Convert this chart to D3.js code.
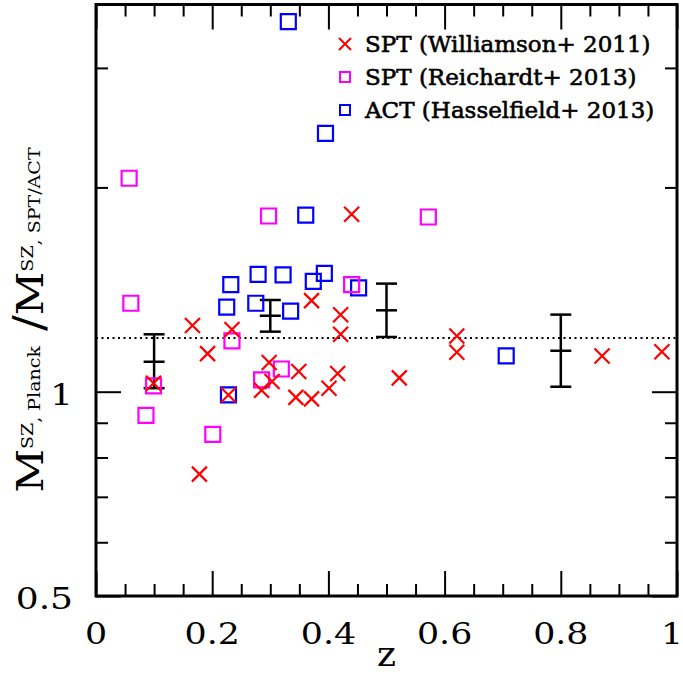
<!DOCTYPE html>
<html>
<head>
<meta charset="utf-8">
<script src="https://cdn.jsdelivr.net/npm/d3@7"></script>
<style>
  body { margin: 0; background: #fff; }
  svg { display: block; }
  text { font-family: "DejaVu Serif", "Liberation Serif", serif; fill: #000; }
</style>
</head>
<body>
<svg id="chart" width="683" height="675"></svg>
<script>
// SPT clusters, Williamson et al. 2011
const sptWilliamsonZ = [0.440, 0.166, 0.234, 0.192, 0.371, 0.421, 0.421, 0.621, 0.621, 0.522, 0.871, 0.974,
  0.298, 0.303, 0.285, 0.349, 0.344, 0.371, 0.401, 0.416, 0.099, 0.228, 0.178];
const sptWilliamsonRatio = [1.826, 1.252, 1.235, 1.138, 1.362, 1.298, 1.215, 1.208, 1.143, 1.048, 1.129, 1.145,
  1.104, 1.035, 1.005, 1.071, 0.981, 0.976, 1.012, 1.064, 1.029, 0.989, 0.756];

// SPT clusters, Reichardt et al. 2013
const sptReichardtZ = [0.057, 0.060, 0.297, 0.572, 0.440, 0.234, 0.319, 0.285, 0.099, 0.086, 0.201];
const sptReichardtRatio = [2.063, 1.350, 1.815, 1.809, 1.438, 1.188, 1.080, 1.041, 1.020, 0.923, 0.865];

// ACT clusters, Hasselfield et al. 2013
const actZ = [0.331, 0.395, 0.361, 0.279, 0.322, 0.393, 0.374, 0.452, 0.232, 0.225, 0.275, 0.335, 0.228, 0.706];
const actRatio = [3.510, 2.403, 1.821, 1.489, 1.486, 1.494, 1.454, 1.422, 1.438, 1.332, 1.350, 1.314, 0.989, 1.129];

// Binned means with their uncertainty ranges
const binZ = [0.1, 0.3, 0.5, 0.8];
const binMean = [1.107, 1.294, 1.318, 1.149];
const binLow = [1.012, 1.226, 1.204, 1.017];
const binHigh = [1.215, 1.365, 1.443, 1.299];

// Reference ratio shown as the dotted line
const referenceRatio = [1.2];

// Axis ticks
const xMajorTicks = [0, 0.2, 0.4, 0.6, 0.8, 1];
const xTickLabels = ["0", "0.2", "0.4", "0.6", "0.8", "1"];
const yMajorTicks = [0.5, 1];
const yTickLabels = ["0.5", "1"];
const yMinorTicks = [0.6, 0.7, 0.8, 0.9, 2, 3];

const legendLabels = ["SPT (Williamson+ 2011)", "SPT (Reichardt+ 2013)", "ACT (Hasselfield+ 2013)"];
const legendColors = ["#ff0000", "#ff00ff", "#0000ff"];
const legendShapes = ["x", "square", "square"];

const svg = d3.select("#chart");
const plotLeft = 96, plotRight = 677, plotTop = 4.5, plotBottom = 596;

const x = d3.scaleLinear().domain([0, 1]).range([plotLeft, plotRight]);
const y = d3.scaleLog().domain([0.5, 3.72]).range([plotBottom, plotTop]);

const xMinorTicks = d3.range(0, 1.0001, 0.05).map(v => +v.toFixed(2)).filter(v => !xMajorTicks.includes(v));

// Tick marks on all four sides, pointing inward
function tickGroup(axis, transform) {
  const g = svg.append("g").attr("transform", transform).call(axis);
  g.select(".domain").remove();
  g.selectAll(".tick line").attr("stroke", "#000").attr("stroke-width", 2);
  g.selectAll(".tick text").remove();
  return g;
}
tickGroup(d3.axisBottom(x).tickValues(xMinorTicks).tickSize(-12), `translate(0,${plotBottom})`);
tickGroup(d3.axisBottom(x).tickValues(xMajorTicks).tickSize(-25), `translate(0,${plotBottom})`);
tickGroup(d3.axisTop(x).tickValues(xMinorTicks).tickSize(-12), `translate(0,${plotTop})`);
tickGroup(d3.axisTop(x).tickValues(xMajorTicks).tickSize(-25), `translate(0,${plotTop})`);
tickGroup(d3.axisLeft(y).tickValues(yMinorTicks).tickSize(-12), `translate(${plotLeft},0)`);
tickGroup(d3.axisLeft(y).tickValues(yMajorTicks).tickSize(-25), `translate(${plotLeft},0)`);
tickGroup(d3.axisRight(y).tickValues(yMinorTicks).tickSize(-12), `translate(${plotRight},0)`);
tickGroup(d3.axisRight(y).tickValues(yMajorTicks).tickSize(-25), `translate(${plotRight},0)`);

// Frame
svg.append("rect")
  .attr("x", plotLeft).attr("y", plotTop)
  .attr("width", plotRight - plotLeft).attr("height", plotBottom - plotTop)
  .attr("fill", "none").attr("stroke", "#000").attr("stroke-width", 3);

// Tick labels (the last one is nudged inside the canvas edge)
svg.append("g").selectAll("text").data(xMajorTicks).join("text")
  .attr("transform", (d, i) => `translate(${Math.min(x(d), 672)},644) scale(1.2,1)`)
  .attr("text-anchor", "middle")
  .style("font-size", "29px")
  .text((d, i) => xTickLabels[i]);

svg.append("g").selectAll("text").data(yMajorTicks).join("text")
  .attr("transform", d => `translate(73,${y(d) + 13}) scale(1.2,1)`)
  .attr("text-anchor", "end")
  .style("font-size", "30px")
  .text((d, i) => yTickLabels[i]);

// Axis titles
svg.append("text")
  .attr("x", (plotLeft + plotRight) / 2).attr("y", 666)
  .attr("text-anchor", "middle")
  .style("font-size", "36px")
  .text("z");

const yTitle = svg.append("text")
  .attr("transform", `translate(43,320) rotate(-90) scale(1.12,1)`)
  .attr("text-anchor", "middle");
yTitle.append("tspan").style("font-size", "38px").text("M");
yTitle.append("tspan").style("font-size", "17px").attr("dy", -10).text("SZ");
yTitle.append("tspan").style("font-size", "17px").attr("dy", 7).text(", Planck");
yTitle.append("tspan").style("font-size", "42px").attr("dy", 3).text(" /");
yTitle.append("tspan").style("font-size", "38px").text("M");
yTitle.append("tspan").style("font-size", "17px").attr("dy", -10).text("SZ");
yTitle.append("tspan").style("font-size", "17px").attr("dy", 7).text(", SPT/ACT");

// Dotted reference line
svg.append("g").selectAll("line").data(referenceRatio).join("line")
  .attr("x1", plotLeft).attr("x2", plotRight)
  .attr("y1", d => y(d)).attr("y2", d => y(d))
  .attr("stroke", "#000").attr("stroke-width", 2)
  .attr("stroke-dasharray", "2,3.5");

// Marker shapes
function crossPath(cx, cy, h) {
  return `M${cx - h},${cy - h}L${cx + h},${cy + h}M${cx - h},${cy + h}L${cx + h},${cy - h}`;
}
function squarePath(cx, cy, h) {
  return `M${cx - h},${cy - h}H${cx + h}V${cy + h}H${cx - h}Z`;
}

// Binned error bars
const bins = svg.append("g").attr("stroke", "#000").attr("stroke-width", 2.5);
binZ.forEach((z, i) => {
  const cx = x(z), cap = 10.5;
  bins.append("line").attr("x1", cx).attr("x2", cx).attr("y1", y(binLow[i])).attr("y2", y(binHigh[i]));
  [binLow[i], binMean[i], binHigh[i]].forEach(v => {
    bins.append("line").attr("x1", cx - cap).attr("x2", cx + cap).attr("y1", y(v)).attr("y2", y(v));
  });
});

const markers = svg.append("g").attr("fill", "none").attr("stroke-width", 2.2);
markers.append("g").attr("stroke", legendColors[2]).selectAll("path").data(actZ).join("path")
  .attr("d", (z, i) => squarePath(x(z), y(actRatio[i]), 7.5));
markers.append("g").attr("stroke", legendColors[1]).selectAll("path").data(sptReichardtZ).join("path")
  .attr("d", (z, i) => squarePath(x(z), y(sptReichardtRatio[i]), 7.5));
markers.append("g").attr("stroke", legendColors[0]).selectAll("path").data(sptWilliamsonZ).join("path")
  .attr("d", (z, i) => crossPath(x(z), y(sptWilliamsonRatio[i]), 7.5));

// Legend
const legend = svg.append("g");
legendLabels.forEach((label, i) => {
  const by = 52 + i * 33;
  legend.append("path")
    .attr("d", legendShapes[i] === "x" ? crossPath(345, by - 8, 6) : squarePath(345, by - 8, 5))
    .attr("fill", "none").attr("stroke", legendColors[i]).attr("stroke-width", 2);
  legend.append("text")
    .attr("x", 365).attr("y", by)
    .style("font-size", "23px")
    .style("stroke", "#000").style("stroke-width", 0.6)
    .text(label);
});
</script>
</body>
</html>
